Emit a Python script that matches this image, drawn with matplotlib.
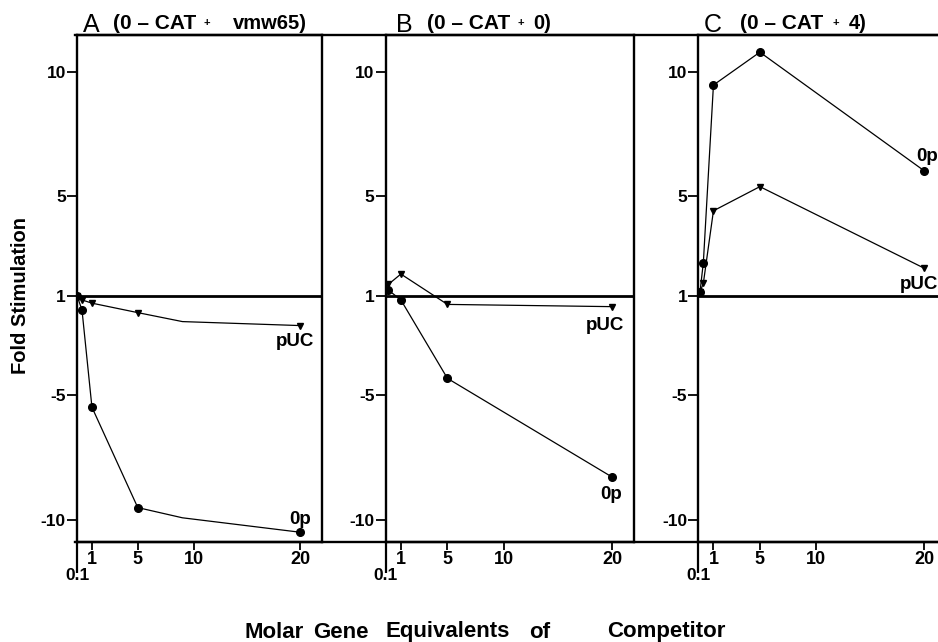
import numpy as np
import matplotlib
matplotlib.use('Agg')
import matplotlib.pyplot as plt
from matplotlib.lines import Line2D

plt.rcParams['font.family'] = ['Liberation Sans', 'DejaVu Sans']
plt.rcParams['font.weight'] = 'bold'

# ---------------- data ----------------
x_ticks = [1, 5, 10, 20]
x_tick_labels = ['1', '5', '10', '20']
x_first_tick = 0.1
y_ticks = [10, 5, 1, -5, -10]
y_tick_labels = ['10', '5', '1', '-5', '-10']

panel_letters = ['A', 'B', 'C']
panel_conditions = ['(0 – CAT', '(0 – CAT', '(0 – CAT']
panel_competitors = ['vmw65)', '0)', '4)']

a_puc_x = [0.1, 0.4, 1, 5, 9, 20]
a_puc_y = [1, -1.17, -1.3, -1.68, -2.04, -2.2]
a_op_x = [0.1, 0.4, 1, 5, 9, 20]
a_op_y = [1, -1.57, -5.48, -9.51, -9.92, -10.5]

b_puc_x = [0.25, 1, 5, 20]
b_puc_y = [1.45, 1.87, -1.35, -1.44]
b_op_x = [0.25, 1, 5, 20]
b_op_y = [1.23, -1.17, -4.32, -8.29]

c_puc_x = [0.2, 0.4, 1, 5, 20]
c_puc_y = [1.15, 1.5, 4.41, 5.38, 2.1]
c_op_x = [0.2, 0.4, 1, 5, 20]
c_op_y = [1.15, 2.33, 9.46, 10.78, 6.01]

# ---------------- axis scales ----------------
_wx = [-100, 0.1, 1, 5, 10, 20, 200]
_wu = [-1671, 0, 15, 61, 117, 224, 2150]


def fwd_x(v):
    return np.interp(np.asarray(v, float), _wx, _wu)


def inv_x(u):
    return np.interp(np.asarray(u, float), _wu, _wx)


def fwd_y(v):
    v = np.asarray(v, float)
    return np.sign(v) * np.maximum(np.abs(v) - 1, 0)


def inv_y(p):
    p = np.asarray(p, float)
    return np.where(p >= 0, p + 1, p - 1)


W, H = 938, 642
fig = plt.figure(figsize=(W / 100, H / 100), dpi=100)

top_px, bot_px = 35, 541.7
lefts = [77, 385.7, 698.3]
rights = [321.5, 634, 946]

panels = [
    (a_puc_x, a_puc_y, a_op_x, a_op_y, [0, 1, 2, 3, 5]),
    (b_puc_x, b_puc_y, b_op_x, b_op_y, None),
    (c_puc_x, c_puc_y, c_op_x, c_op_y, None),
]
# label offsets in pixels (pUC, 0p)
lab_off = [((-5, -16), (0, 13)), ((-7, -19), (-1, -17)), ((-5, -16), (3, 14))]

spine_lw = 1.7
for i, (px, py, ox, oy, mev) in enumerate(panels):
    l, r = lefts[i], rights[i]
    ax = fig.add_axes([l / W, 1 - bot_px / H, (r - l) / W, (bot_px - top_px) / H])
    ax.set_xscale('function', functions=(fwd_x, inv_x))
    ax.set_yscale('function', functions=(fwd_y, inv_y))
    ax.set_xlim(0.1, 22)
    ax.set_ylim(-10.88, 11.47)
    for s in ax.spines.values():
        s.set_linewidth(spine_lw)
    ax.axhline(1, color='k', lw=2.0, zorder=1)

    ax.plot(px, py, color='k', lw=0.9, marker='v', ms=5, markevery=mev, zorder=3)
    ax.plot(ox, oy, color='k', lw=0.9, marker='o', ms=5.5, markevery=mev, zorder=3)

    (pdx, pdy), (odx, ody) = lab_off[i]
    ax.annotate('pUC', (px[-1], py[-1]), xytext=(pdx, pdy), textcoords='offset pixels',
                ha='center', va='center', fontsize=13.5, fontweight='bold',
                annotation_clip=False)
    ax.annotate('0p', (ox[-1], oy[-1]), xytext=(odx, ody), textcoords='offset pixels',
                ha='center', va='center', fontsize=13.5, fontweight='bold',
                annotation_clip=False)

    ax.set_yticks(y_ticks)
    ax.set_yticklabels(y_tick_labels)
    ax.set_xticks(x_ticks)
    ax.set_xticklabels(x_tick_labels)
    ax.set_xticks([x_first_tick], minor=True)
    ax.set_xticklabels([str(x_first_tick)], minor=True)
    ax.yaxis.set_minor_locator(matplotlib.ticker.NullLocator())
    ax.tick_params(axis='y', direction='out', length=7, width=1.3, pad=1, labelsize=12.5)
    ax.tick_params(axis='x', which='major', direction='out', length=6, width=1.3, pad=1,
                   labelsize=13)
    ax.tick_params(axis='x', which='minor', direction='out', length=22, width=1.6, pad=-3,
                   labelsize=12.5)
    for lbl in ax.get_xticklabels(which='both') + ax.get_yticklabels():
        lbl.set_fontweight('bold')

# continuous top and bottom frame lines
for ypx in (top_px, bot_px):
    fig.add_artist(Line2D([75 / W, 1.0], [1 - ypx / H, 1 - ypx / H], color='k',
                          lw=spine_lw, transform=fig.transFigure))

# panel titles
title_base = 1 - 29 / H
letter_x = [83, 396, 704]
cond_x = [113, 426.7, 740]
plus_x = [206.7, 521, 835.7]
comp_x = [233.3, 533.3, 848.3]
for i in range(3):
    fig.text(letter_x[i] / W, 1 - 32 / H, panel_letters[i], fontsize=18,
             fontweight='normal', ha='left', va='baseline')
    fig.text(cond_x[i] / W, title_base, panel_conditions[i], fontsize=15,
             fontweight='bold', ha='left', va='baseline')
    fig.text(plus_x[i] / W, 1 - 23 / H, '+', fontsize=8, fontweight='bold',
             ha='center', va='center')
    fig.text(comp_x[i] / W, title_base, panel_competitors[i], fontsize=14.5,
             fontweight='bold', ha='left', va='baseline')

fig.text(20 / W, 1 - 295 / H, 'Fold Stimulation', rotation=90, ha='center',
         va='center', fontsize=14.5, fontweight='bold')

xlabel_words = ['Molar', 'Gene', 'Equivalents', 'of', 'Competitor']
xlabel_centers = [274, 341, 448, 540, 666]
for w, cx in zip(xlabel_words, xlabel_centers):
    fig.text(cx / W, 1 - 632 / H, w, ha='center', va='center', fontsize=16,
             fontweight='bold')

fig.savefig('out.png', dpi=100)
